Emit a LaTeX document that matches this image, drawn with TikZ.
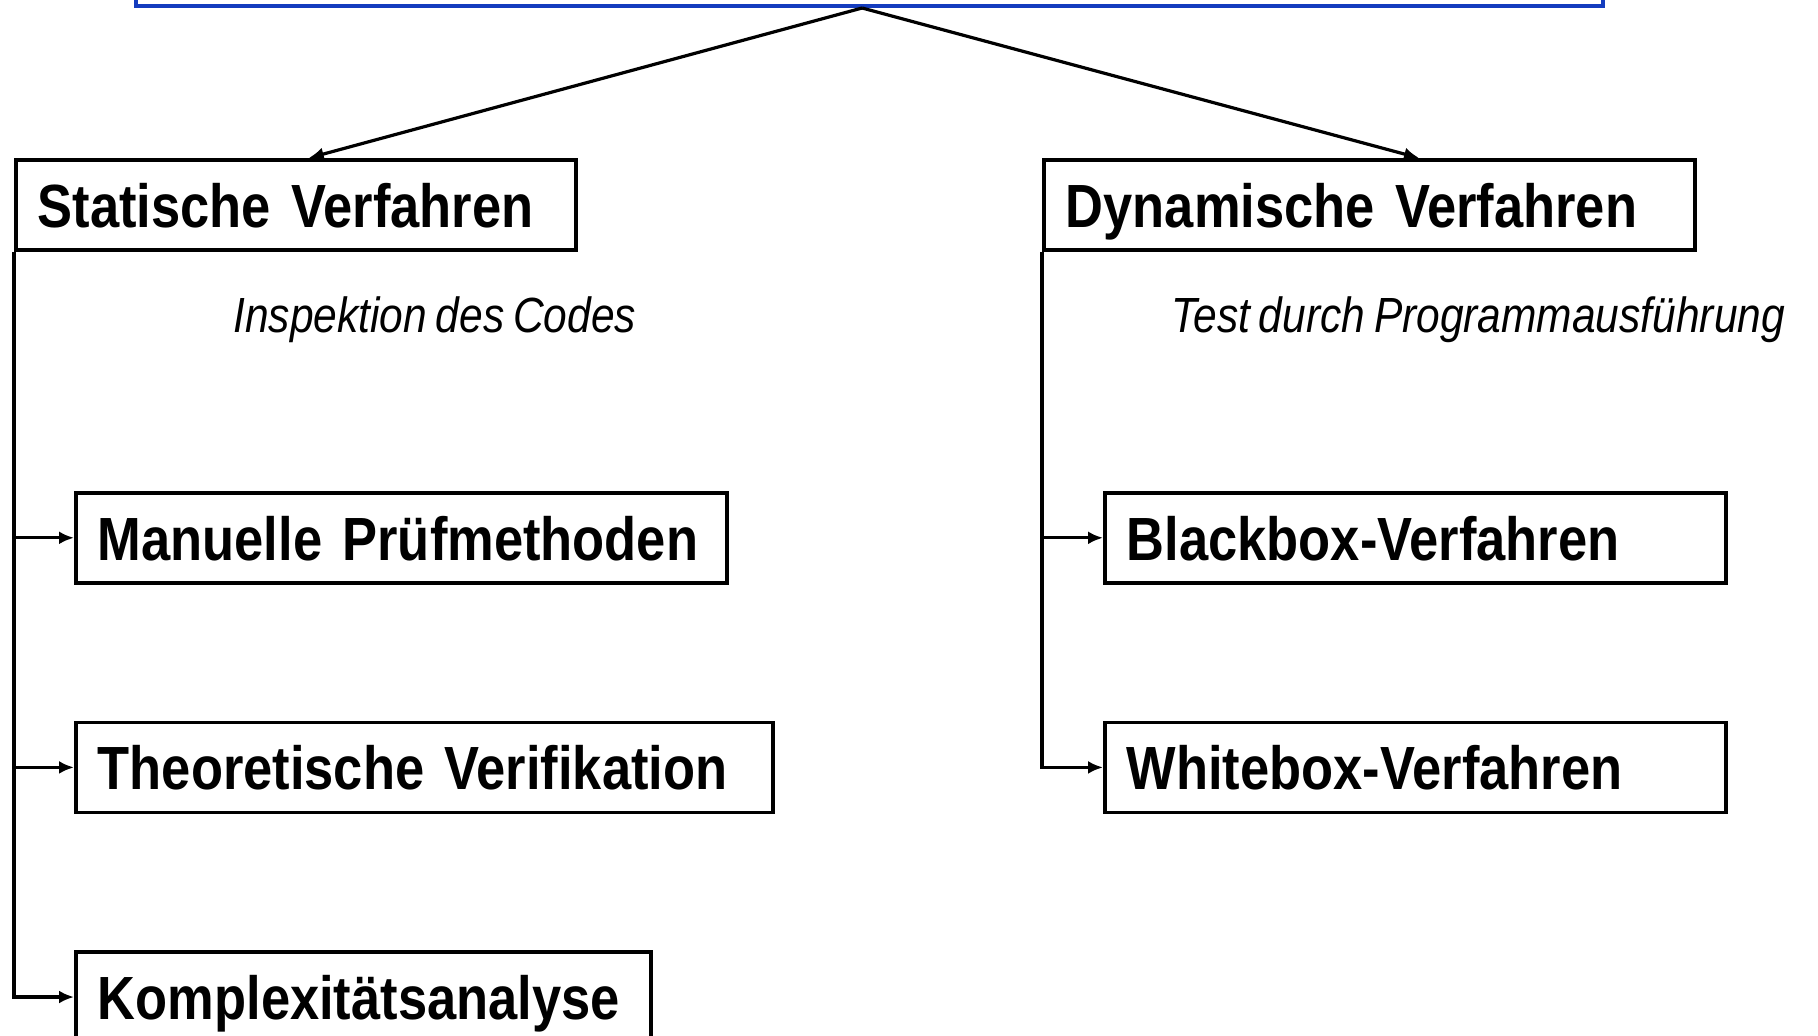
\documentclass[tikz,border=0pt]{standalone}
\usepackage{fontspec}
\setmainfont[FakeStretch=0.86, WordSpace=0.75]{Liberation Sans}
\usetikzlibrary{arrows.meta,calc,positioning}
\definecolor{topblue}{RGB}{20,60,190}

\begin{document}
\begin{tikzpicture}[x=0.5pt, y=-0.5pt, >={Latex[length=7.5pt,width=6.5pt]},
  box/.style={draw, line width=1.8pt, anchor=north west, minimum height=45pt,
    inner xsep=11pt, inner ysep=0pt, text width=#1, align=left,
    text height=22.5pt, text depth=0pt, font=\fontsize{30.5}{34}\selectfont\bfseries},
  note/.style={anchor=base west, inner sep=0pt, font=\fontsize{24.7}{27}\selectfont\itshape},
  link/.style={->, line width=1.6pt}]
  \useasboundingbox (0,0) rectangle (1818,1035);
  \node[draw=topblue, line width=2pt, minimum width=733.5pt, minimum height=60pt, anchor=south] (top) at (869.5,8) {};
  \coordinate (apex) at ($(top.south west)!0.495!(top.south east)$);
  \node[box=258pt] (stat) at (14,158) {Statische Verfahren};
  \node[box=303.5pt] (dyn) at (1042,158) {Dynamische Verfahren};
  \node[note] (insp) at (233,332) {Inspektion des Codes};
  \node[note] (test) at (1171,332) {Test durch Programmausführung};
  \node[box=303.5pt] (man) at (74,491) {Manuelle Prüfmethoden};
  \node[box=326.5pt, below=68pt of man.south west, anchor=north west] (theo) {Theoretische Verifikation};
  \node[box=265.5pt, below=68pt of theo.south west, anchor=north west] (komp) {Komplexitätsanalyse};
  \node[box=288.5pt] (black) at (1103,491) {Blackbox-Verfahren};
  \node[box=288.5pt, below=68pt of black.south west, anchor=north west] (white) {Whitebox-Verfahren};
  \draw[link] (apex) -- ($(stat.north west)!0.523!(stat.north east)$);
  \draw[link] (apex) -- ($(dyn.north west)!0.576!(dyn.north east)$);
  \draw[link] (stat.south west |- man.west) -- (man.west);
  \draw[link] (stat.south west |- theo.west) -- (theo.west);
  \draw[link] (stat.south west) |- (komp.west);
  \draw[link] (dyn.south west |- black.west) -- (black.west);
  \draw[link] (dyn.south west) |- (white.west);
\end{tikzpicture}
\end{document}
